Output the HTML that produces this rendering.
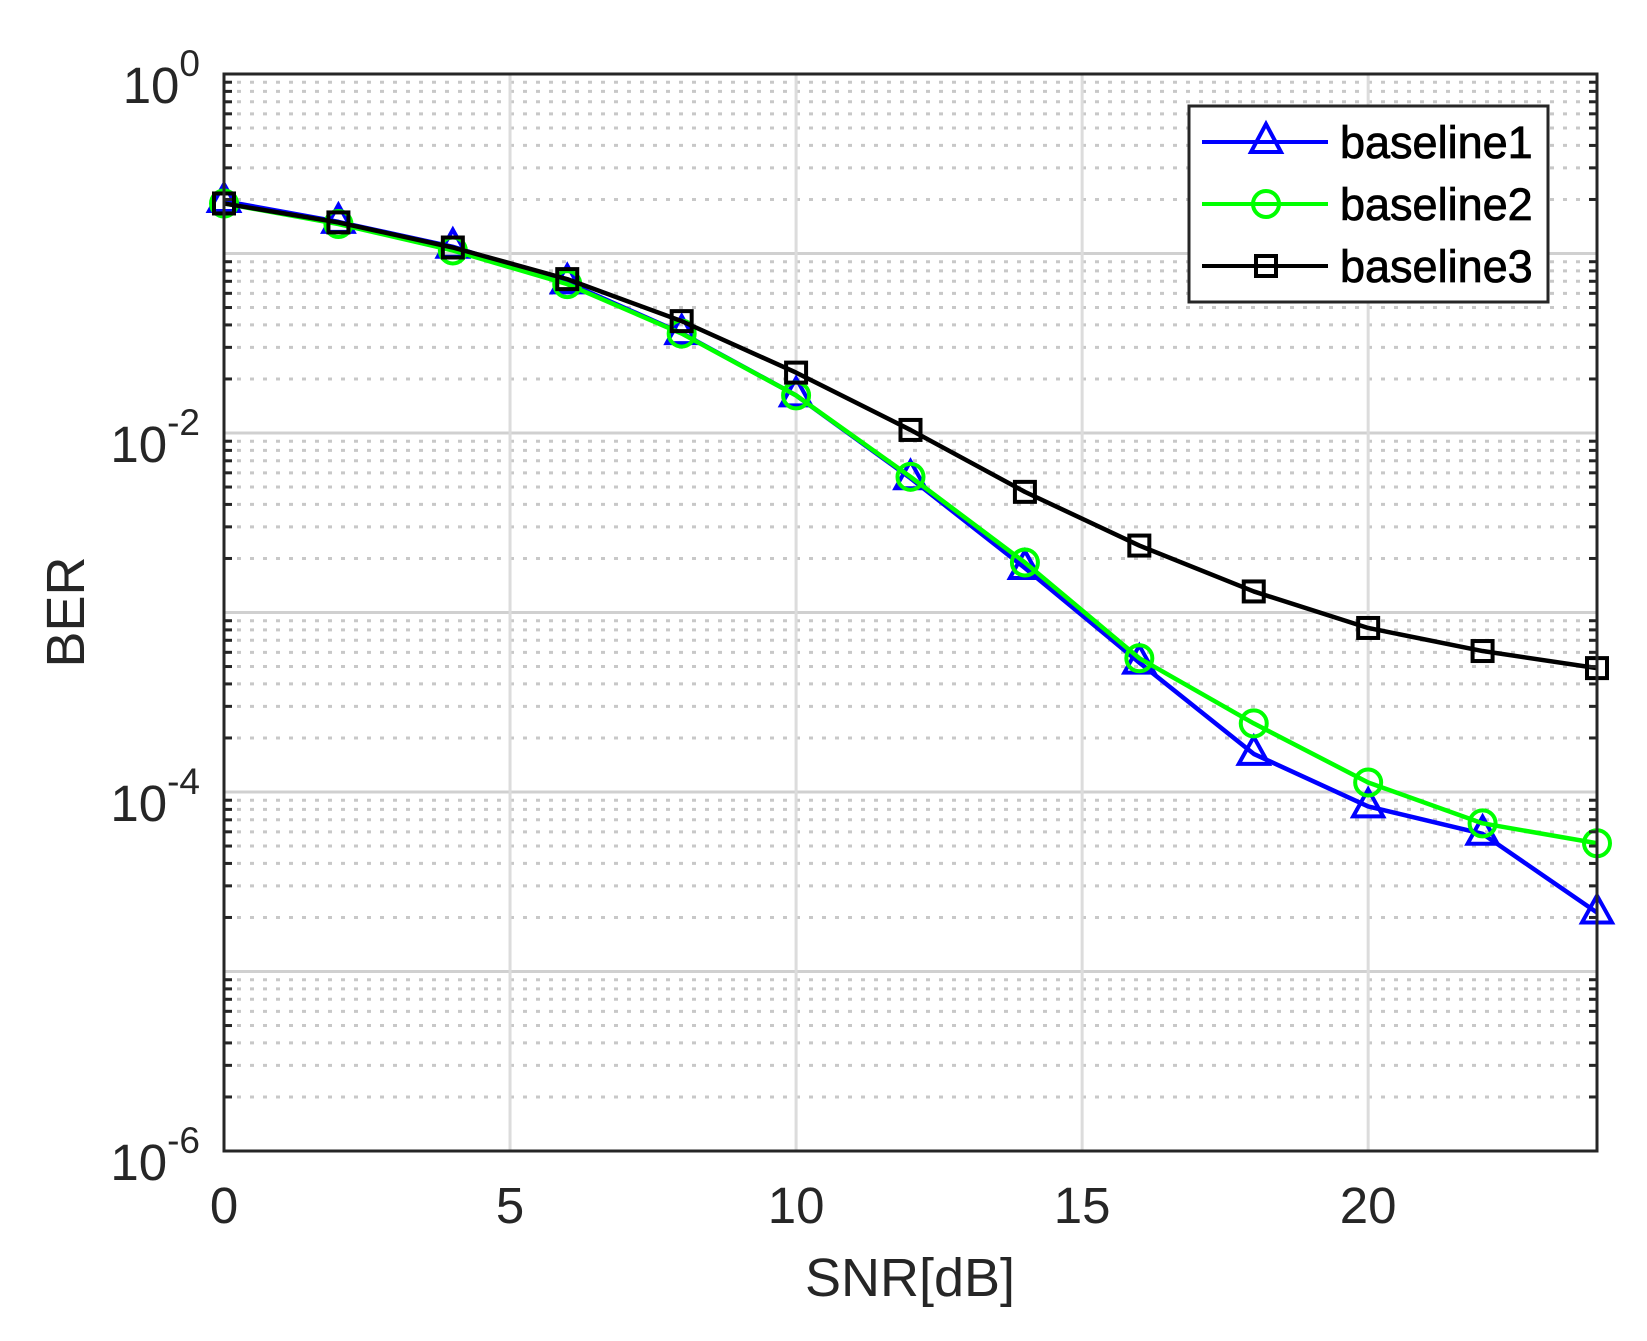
<!DOCTYPE html>
<html><head><meta charset="utf-8"><style>
html,body{margin:0;padding:0;background:#fff;}
svg{display:block;font-family:"Liberation Sans",Arial,sans-serif;}
</style></head><body>
<svg id="chart" width="1647" height="1341" viewBox="0 0 1647 1341" xmlns="http://www.w3.org/2000/svg">
<rect x="0" y="0" width="1647" height="1341" fill="#fff"/>
<g id="grid"></g>
<g id="series"></g>
<rect x="224" y="74" width="1373" height="1077" fill="none" stroke="#262626" stroke-width="3"/>
<g id="ticks"></g>
<text x="910" y="1296" font-size="54" text-anchor="middle" fill="#262626">SNR[dB]</text>
<text transform="translate(84,612) rotate(-90)" font-size="54" text-anchor="middle" fill="#262626">BER</text>
<g>
<rect x="1189" y="106" width="359" height="196" fill="#fff" stroke="#262626" stroke-width="3"/>
<g>
<line x1="1202" y1="142" x2="1328" y2="142" stroke="#0000ff" stroke-width="4"/>
<polygon points="1266,124 1251,152 1281,152" fill="none" stroke="#0000ff" stroke-width="4"/>
<text x="1340" y="158" font-size="45" fill="#000" stroke="#000" stroke-width="0.8">baseline1</text></g>
<g>
<line x1="1202" y1="204" x2="1328" y2="204" stroke="#00ff00" stroke-width="4"/>
<circle cx="1266" cy="204" r="13" fill="none" stroke="#00ff00" stroke-width="4"/>
<text x="1340" y="220" font-size="45" fill="#000" stroke="#000" stroke-width="0.8">baseline2</text></g>
<g>
<line x1="1202" y1="266" x2="1328" y2="266" stroke="#000" stroke-width="4"/>
<rect x="1256" y="256" width="20" height="20" fill="none" stroke="#000" stroke-width="4"/>
<text x="1340" y="282" font-size="45" fill="#000" stroke="#000" stroke-width="0.8">baseline3</text></g>
</g>
</svg>
<script>
const snr = [0,2,4,6,8,10,12,14,16,18,20,22,24];
const baseline1 = [0.196,0.15,0.109,0.069,0.036,0.0162,0.0056,0.00177,0.000526,0.000163,0.0000831,0.0000585,0.0000213];
const baseline2 = [0.19,0.146,0.104,0.0675,0.0358,0.0162,0.0057,0.0019,0.000556,0.000241,0.000113,0.0000669,0.0000518];
const baseline3 = [0.19,0.149,0.108,0.072,0.042,0.0217,0.0104,0.0047,0.00236,0.00131,0.00082,0.00061,0.00049];
const xTicks = [0,5,10,15,20];
const yDecades = [0,-2,-4,-6];
const NS='http://www.w3.org/2000/svg';
const L=224,R=1597,T=74,B=1151;
const xs=v=>L+(v-0)/(24-0)*(R-L);
const ys=v=>T+(0-Math.log10(v))/6*(B-T);
function mk(tag,attrs,parent){const e=document.createElementNS(NS,tag);for(const k in attrs)e.setAttribute(k,attrs[k]);parent.appendChild(e);return e;}
const grid=document.getElementById('grid'),ticks=document.getElementById('ticks'),ser=document.getElementById('series');
for(let d=0;d>-6;d--){for(let m=2;m<=9;m++){const y=ys(m*Math.pow(10,d-1));
 const g=mk('line',{x1:L,x2:R,y1:y,y2:y,stroke:'#c8c8c8','stroke-width':3,'stroke-dasharray':'4 9'},grid);
 
 
 const t1=mk('line',{x1:L,x2:L+8,y1:y,y2:y,stroke:'#262626','stroke-width':3},ticks);
 
 
 const t2=mk('line',{x1:R-8,x2:R,y1:y,y2:y,stroke:'#262626','stroke-width':3},ticks);
 
 }}
for(let d=0;d>=-6;d--){const y=ys(Math.pow(10,d));
 const g=mk('line',{x1:L,x2:R,y1:y,y2:y,stroke:'#d0d0d0','stroke-width':3},grid);
 
 }
yDecades.forEach(d=>{const y=ys(Math.pow(10,d));
 const t=mk('text',{x:200,y:y+29,'font-size':51,'text-anchor':'end',fill:'#262626'},ticks);
 
 
 t.textContent='10';
 const s=mk('tspan',{dy:-27,'font-size':37},t);s.textContent=String(d);});
xTicks.forEach(v=>{const x=xs(v);
 const g=mk('line',{x1:x,x2:x,y1:T,y2:B,stroke:'#dcdcdc','stroke-width':3},grid);
 
 
 const t=mk('text',{x:x,y:1223,'font-size':51,'text-anchor':'middle',fill:'#262626'},ticks);
 
 
 t.textContent=v;});
function drawSeries(vals,color,marker,name){
 const g=mk('g',{},ser);
 
 
 const pts=snr.map((x,i)=>xs(x)+','+ys(vals[i])).join(' ');
 const pl=mk('polyline',{points:pts,fill:'none',stroke:color,'stroke-width':4.5,'stroke-linejoin':'round'},g);
 
 
 snr.forEach((s,i)=>{const x=xs(s),y=ys(vals[i]);let m;
  if(marker==='tri')m=mk('polygon',{points:`${x},${y-17} ${x-15},${y+10} ${x+15},${y+10}`,fill:'none',stroke:color,'stroke-width':4},g);
  else if(marker==='circ')m=mk('circle',{cx:x,cy:y,r:13,fill:'none',stroke:color,'stroke-width':4},g);
  else m=mk('rect',{x:x-10,y:y-10,width:20,height:20,fill:'none',stroke:color,'stroke-width':4},g);
  
  });}
drawSeries(baseline1,'#0000ff','tri','baseline1');
drawSeries(baseline2,'#00ff00','circ','baseline2');
drawSeries(baseline3,'#000000','sq','baseline3');
</script>
</body></html>
